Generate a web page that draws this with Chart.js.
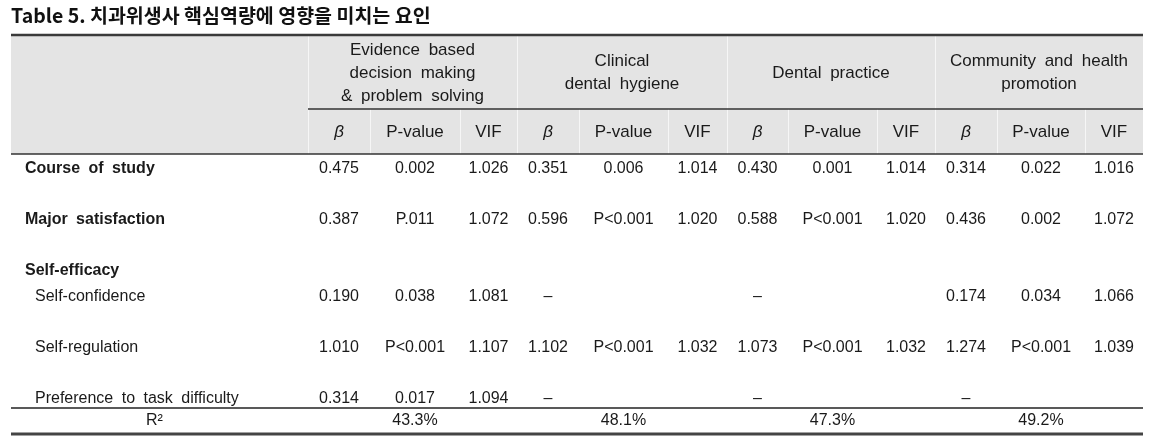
<!DOCTYPE html>
<html>
<head>
<meta charset="utf-8">
<script src="https://cdn.jsdelivr.net/npm/chart.js@4.4.1/dist/chart.umd.min.js"></script>
<style>
  html, body { margin: 0; padding: 0; background: #fff; }
</style>
</head>
<body>
<canvas id="table" width="1163" height="438"></canvas>
<script>
const title = "Table 5. 치과위생사 핵심역량에 영향을 미치는 요인";
const groupNames = [
  ["Evidence based", "decision making", "& problem solving"],
  ["Clinical", "dental hygiene"],
  ["Dental practice"],
  ["Community and health", "promotion"]
];
const statNames = ["β", "P-value", "VIF"];
const rowLabels = ["Course of study", "Major satisfaction", "Self-efficacy",
  "Self-confidence", "Self-regulation", "Preference to task difficulty"];

// "" = empty cell, "–" = variable not in model
const evidenceBeta = ["0.475", "0.387", "", "0.190", "1.010", "0.314"];
const evidenceP    = ["0.002", "P.011", "", "0.038", "P<0.001", "0.017"];
const evidenceVif  = ["1.026", "1.072", "", "1.081", "1.107", "1.094"];
const clinicalBeta = ["0.351", "0.596", "", "–", "1.102", "–"];
const clinicalP    = ["0.006", "P<0.001", "", "", "P<0.001", ""];
const clinicalVif  = ["1.014", "1.020", "", "", "1.032", ""];
const practiceBeta = ["0.430", "0.588", "", "–", "1.073", "–"];
const practiceP    = ["0.001", "P<0.001", "", "", "P<0.001", ""];
const practiceVif  = ["1.014", "1.020", "", "", "1.032", ""];
const communityBeta = ["0.314", "0.436", "", "0.174", "1.274", "–"];
const communityP    = ["0.022", "0.002", "", "0.034", "P<0.001", ""];
const communityVif  = ["1.016", "1.072", "", "1.066", "1.039", ""];
const rSquared = ["43.3%", "48.1%", "47.3%", "49.2%"];

// layout (x in table units, y in px from the top rule)
const colWidths = [297, 62, 90, 57, 62, 89, 59, 61, 89, 58, 62, 88, 58];
const colEdges = [0];
colWidths.forEach(w => colEdges.push(colEdges[colEdges.length - 1] + w));
const tableW = colEdges[colEdges.length - 1];
const colMid = i => (colEdges[i] + colEdges[i + 1]) / 2;
const L = {
  groupMid: 38, groupLine: 23, groupRule: 74, statRow: 97, headerBottom: 119,
  firstRow: 134, rowStep: 25.5, rowSlots: [0, 2, 4, 5, 7, 9],
  rRule: 373, rRow: 386, tableH: 399
};

const fonts = {
  head: "17px 'Liberation Sans'",
  beta: "italic 17px 'Liberation Sans'",
  rowBold: "bold 16px 'Liberation Sans'",
  row: "16px 'Liberation Sans'",
  num: "16px 'Liberation Sans'"
};

const outcomes = [
  [evidenceBeta, evidenceP, evidenceVif],
  [clinicalBeta, clinicalP, clinicalVif],
  [practiceBeta, practiceP, practiceVif],
  [communityBeta, communityP, communityVif]
];

const cells = [];
groupNames.forEach((lines, g) => {
  const x = (colEdges[1 + g * 3] + colEdges[4 + g * 3]) / 2;
  lines.forEach((t, i) => cells.push({
    x, y: L.groupMid + (i - (lines.length - 1) / 2) * L.groupLine, text: t, kind: "head"
  }));
  statNames.forEach((s, k) => cells.push({
    x: colMid(1 + g * 3 + k), y: L.statRow, text: s, kind: k === 0 ? "beta" : "head"
  }));
});
rowLabels.forEach((t, r) => cells.push({
  x: r < 3 ? 14 : 24, y: L.firstRow + L.rowSlots[r] * L.rowStep,
  text: t, kind: r < 3 ? "rowBold" : "row", align: "left"
}));
outcomes.forEach((cols, g) => {
  cols.forEach((vals, k) => {
    vals.forEach((v, r) => {
      if (v === "") return;
      cells.push({ x: colMid(1 + g * 3 + k), y: L.firstRow + L.rowSlots[r] * L.rowStep, text: v, kind: "num" });
    });
  });
});
cells.push({ x: colMid(0) - 5, y: L.rRow, text: "R²", kind: "num" });
rSquared.forEach((v, g) => cells.push({ x: colMid(2 + g * 3), y: L.rRow, text: v, kind: "num" }));

const tablePlugin = {
  id: "tableGrid",
  beforeDatasetsDraw(chart) {
    const { ctx, scales: { x, y } } = chart;
    const px = v => x.getPixelForValue(v);
    const py = v => y.getPixelForValue(v);
    const hline = (y0, x0, x1, w, c) => {
      ctx.beginPath(); ctx.strokeStyle = c; ctx.lineWidth = w;
      ctx.moveTo(px(x0), py(y0)); ctx.lineTo(px(x1), py(y0)); ctx.stroke();
    };
    ctx.save();
    ctx.fillStyle = "#e4e4e4";
    ctx.fillRect(px(0), py(0), px(tableW) - px(0), py(L.headerBottom) - py(0));
    // light separators in the header
    ctx.strokeStyle = "#f6f6f6";
    ctx.lineWidth = 1;
    for (let i = 1; i < colEdges.length - 1; i++) {
      const top = (i - 1) % 3 === 0 ? 1 : L.groupRule;
      const xx = Math.round(px(colEdges[i])) + 0.5;
      ctx.beginPath(); ctx.moveTo(xx, py(top)); ctx.lineTo(xx, py(L.headerBottom)); ctx.stroke();
    }
    hline(0, 0, tableW, 2.5, "#3a3a3a");
    hline(L.groupRule, colEdges[1], tableW, 1.3, "#333");
    hline(L.headerBottom, 0, tableW, 1.3, "#333");
    hline(L.rRule, 0, tableW, 1.3, "#222");
    hline(L.tableH, 0, tableW, 3, "#444");
    ctx.restore();
  },
  afterDatasetsDraw(chart) {
    const { ctx } = chart;
    const meta = chart.getDatasetMeta(0);
    ctx.save();
    ctx.fillStyle = "#1a1a1a";
    ctx.textBaseline = "middle";
    ctx.wordSpacing = "4px";
    meta.data.forEach((el, i) => {
      const c = cells[i];
      ctx.font = fonts[c.kind];
      ctx.textAlign = c.align || "center";
      ctx.fillText(c.text, el.x, el.y);
    });
    ctx.restore();
  }
};

new Chart(document.getElementById("table"), {
  type: "scatter",
  data: {
    datasets: [{ data: cells, pointRadius: 0, pointHoverRadius: 0 }]
  },
  options: {
    responsive: false,
    animation: false,
    events: [],
    layout: { padding: { left: 11, right: 20, top: 0, bottom: 4 } },
    scales: {
      x: { type: "linear", min: 0, max: tableW, display: false },
      y: { type: "linear", min: 0, max: L.tableH, reverse: true, display: false }
    },
    plugins: {
      legend: { display: false },
      tooltip: { enabled: false },
      title: {
        display: true,
        text: title,
        align: "start",
        color: "#111",
        font: { family: "'Noto Sans CJK KR'", size: 19.5, weight: "bold" },
        padding: { top: 4, bottom: 7.6 }
      }
    }
  },
  plugins: [tablePlugin]
});
</script>
</body>
</html>
